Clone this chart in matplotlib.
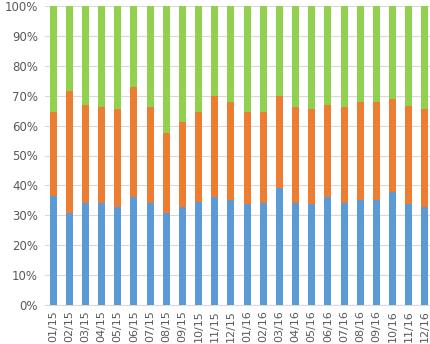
import matplotlib.pyplot as plt
import numpy as np

months = ['01/15', '02/15', '03/15', '04/15', '05/15', '06/15', '07/15', '08/15',
          '09/15', '10/15', '11/15', '12/15', '01/16', '02/16', '03/16', '04/16',
          '05/16', '06/16', '07/16', '08/16', '09/16', '10/16', '11/16', '12/16']
# percentage shares
blue = [36.5, 30.9, 34.2, 34.0, 32.9, 36.0, 34.0, 30.7, 32.7, 34.3, 36.0, 35.1,
        33.7, 34.2, 39.0, 34.2, 33.8, 36.0, 34.2, 35.1, 35.1, 37.7, 33.8, 32.9]
orange_top = [64.4, 71.6, 66.8, 66.1, 65.7, 72.8, 66.1, 57.4, 61.2, 64.5, 69.9, 68.0,
              64.4, 64.4, 70.0, 66.3, 65.6, 66.9, 66.3, 68.0, 68.0, 68.9, 66.6, 65.6]

blue = np.array(blue)
orange = np.array(orange_top) - blue
green = 100 - np.array(orange_top)

fig = plt.figure(figsize=(4.31, 3.44), dpi=100)
ax = fig.add_axes([45/431, 39/344, 388/431, 299/344])

x = np.arange(len(months))
w = 0.44
ax.bar(x, blue, w, color='#5B9BD5', zorder=3)
ax.bar(x, orange, w, bottom=blue, color='#ED7D31', zorder=3)
ax.bar(x, green, w, bottom=blue + orange, color='#92D050', zorder=3)

ax.set_xlim(-0.5, len(months) - 0.5)
ax.set_ylim(0, 100)
ax.set_yticks(np.arange(0, 101, 10))
ax.set_yticklabels([f'{v}%' for v in range(0, 101, 10)])
ax.set_xticks(x)
ax.set_xticklabels(months, rotation=90)
ax.grid(axis='y', color='#D9D9D9', linewidth=0.8, zorder=0)
for s in ['top', 'right', 'left']:
    ax.spines[s].set_visible(False)
ax.spines['bottom'].set_color('#D9D9D9')
ax.tick_params(axis='both', length=0, labelsize=8, colors='#595959')
ax.tick_params(axis='y', pad=5, labelsize=8.5)
ax.tick_params(axis='x', pad=4)

fig.savefig('out.png', dpi=100)
